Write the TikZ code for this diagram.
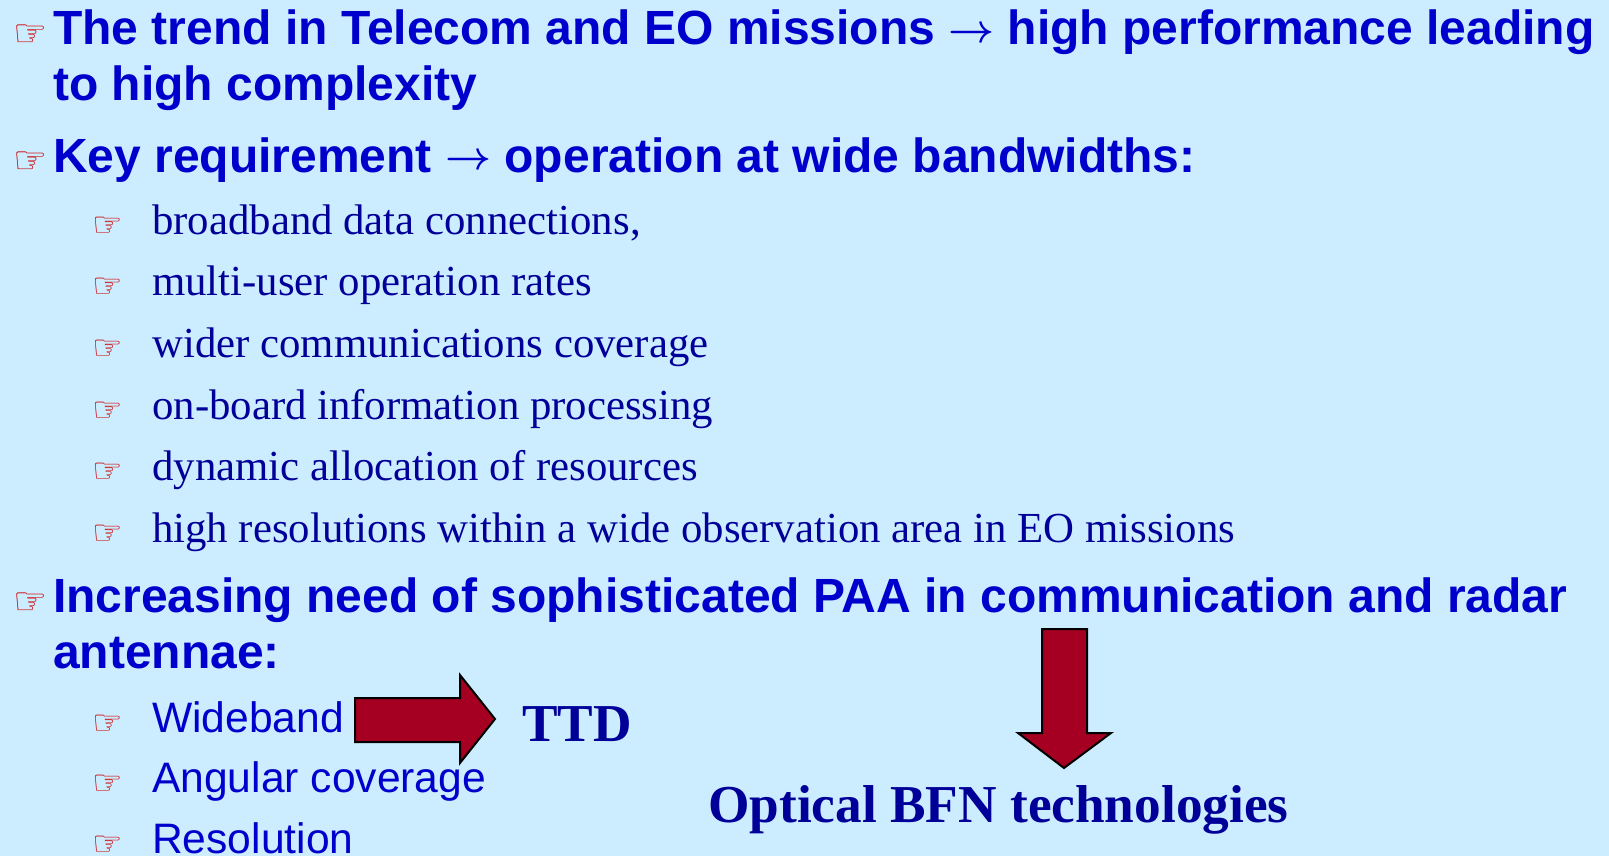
\RequirePackage{fix-cm}
\documentclass[tikz,border=0pt]{standalone}
\usepackage{fontspec}
\setmainfont{Liberation Serif}
\setsansfont{Liberation Sans}
\newfontfamily\handfont{DejaVu Sans}
\definecolor{slidebg}{HTML}{CCECFF}
\definecolor{headblue}{HTML}{0000CC}
\definecolor{itemnavy}{HTML}{000099}
\definecolor{handred}{HTML}{CC0000}
\definecolor{arrowred}{HTML}{A50021}
\newcommand{\thinarrow}{{\fontsize{40}{40}\selectfont\boldmath\raisebox{2pt}{$\rightarrow$}}}
\tikzset{
  head/.style={anchor=base west, inner sep=0pt, text=headblue,
    font=\sffamily\bfseries\fontsize{48}{54}\selectfont},
  subserif/.style={anchor=base west, inner sep=0pt, text=itemnavy,
    font=\rmfamily\fontsize{42.8}{48}\selectfont},
  subsans/.style={anchor=base west, inner sep=0pt, text=headblue,
    font=\sffamily\fontsize{42.6}{48}\selectfont},
  bighand/.style={anchor=base west, inner sep=0pt, text=handred,
    font=\handfont\fontsize{38}{38}\selectfont},
  smallhand/.style={anchor=base west, inner sep=0pt, text=handred,
    font=\handfont\fontsize{34}{34}\selectfont},
  result/.style={anchor=base west, inner sep=0pt, text=itemnavy,
    font=\rmfamily\bfseries\fontsize{53.3}{60}\selectfont},
  blockarrow/.style={fill=arrowred, draw=black, line width=2pt, line join=miter}
}
\begin{document}
\begin{tikzpicture}[x=1pt, y=-1pt]
  \fill[slidebg] (0,0) rectangle (1609,856);
  \useasboundingbox (0,0) rectangle (1609,856);

  % first bullet
  \node[bighand] (h1) at (13,47) {☞};
  \node[head] (t1a) at (53,45) {The trend in Telecom and EO missions \thinarrow{} high performance leading};
  \node[head] (t1b) at (53,101) {to high complexity};

  % second bullet
  \node[bighand] (h2) at (13,174) {☞};
  \node[head] (t2) at (53,172) {Key requirement \thinarrow{} operation at wide bandwidths:};

  % requirement list
  \foreach \y/\txt [count=\i] in {
      234/{broadband data connections,},
      295/{multi-user operation rates},
      357/{wider communications coverage},
      419/{on-board information processing},
      480/{dynamic allocation of resources},
      542/{high resolutions within a wide observation area in EO missions}} {
    \node[smallhand] (rh\i) at (92,\y+2) {☞};
    \node[subserif] (r\i) at (152,\y) {\txt};
  }

  % third bullet
  \node[bighand] (h3) at (13,614) {☞};
  \node[head] (t3a) at (53,612) {Increasing need of sophisticated PAA in communication and radar};
  \node[head] (t3b) at (53,668) {antennae:};

  % PAA features
  \node[smallhand] (fh1) at (92,734) {☞};
  \node[subsans] (f1) at (152,732) {Wideband};
  \node[smallhand] (fh2) at (92,794) {☞};
  \node[subsans] (f2) at (152,792) {Angular coverage};
  \node[smallhand] (fh3) at (92,855) {☞};
  \node[subsans] (f3) at (152,853) {Resolution};

  % outcomes
  \node[result] (ttd) at (522,741) {TTD};
  \node[result] (bfn) at (708,822) {Optical BFN technologies};

  % block arrows
  \draw[blockarrow] (355,698) -- (460,698) -- (460,675) -- (495,719)
    -- (460,763) -- (460,742) -- (355,742) -- cycle;
  \draw[blockarrow] (1042,629) -- (1087,629) -- (1087,733) -- (1111,733)
    -- (1064,768) -- (1018,733) -- (1042,733) -- cycle;
\end{tikzpicture}
\end{document}
